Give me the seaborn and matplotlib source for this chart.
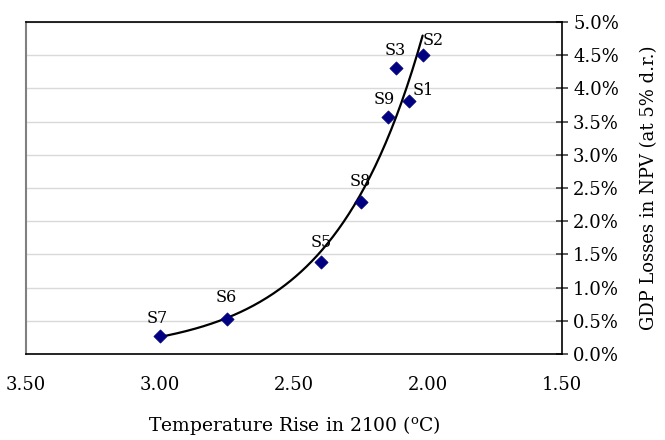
import numpy as np
import pandas as pd
import matplotlib
matplotlib.use("Agg")
import matplotlib.pyplot as plt
import seaborn as sns
from matplotlib.ticker import FuncFormatter, FixedLocator

# scenarios
scenarios = ["S1", "S2", "S3", "S5", "S6", "S7", "S8", "S9"]
temp_rise = [2.07, 2.02, 2.12, 2.40, 2.75, 3.00, 2.25, 2.15]
gdp_loss = [3.81, 4.51, 4.30, 1.39, 0.53, 0.27, 2.29, 3.57]  # percent

# label offsets (pixels) relative to each point
label_dx = [14, 11, -1, 0, -1, -3, -1, -4]
label_dy = [11, 14, 18, 19, 21, 18, 20, 17]

x_ticks = [3.50, 3.00, 2.50, 2.00, 1.50]
y_ticks = [0.0, 0.5, 1.0, 1.5, 2.0, 2.5, 3.0, 3.5, 4.0, 4.5, 5.0]

sns.set_style("white")
plt.rcParams["font.family"] = ["DejaVu Serif"]
plt.rcParams["mathtext.fontset"] = "dejavuserif"

df = pd.DataFrame({"scenario": scenarios, "temp": temp_rise, "loss": gdp_loss})

# exponential trendline (least squares on log values, like Excel)
b, ln_a = np.polyfit(df["temp"], np.log(df["loss"]), 1)
trend = pd.DataFrame({"temp": np.linspace(df["temp"].min(), df["temp"].max(), 200)})
trend["loss"] = np.exp(ln_a) * np.exp(b * trend["temp"])

fig = plt.figure(figsize=(6.65, 4.4), dpi=100)
ax = fig.add_axes([26 / 665, 1 - 354 / 440, (562 - 26) / 665, (354 - 22) / 440])

sns.lineplot(data=trend, x="temp", y="loss", ax=ax, color="black", lw=1.6, zorder=3)
sns.scatterplot(data=df, x="temp", y="loss", ax=ax, marker="D", s=45,
                color="#000080", edgecolor="#000080", zorder=4)

for i, row in df.iterrows():
    ax.annotate(row["scenario"], (row["temp"], row["loss"]),
                xytext=(label_dx[i], label_dy[i]), textcoords="offset pixels",
                ha="center", va="center", fontsize=11.5, color="black", zorder=5)

ax.set_xlim(3.5, 1.5)
ax.set_ylim(0, 5.0)
ax.xaxis.set_major_locator(FixedLocator(x_ticks))
ax.yaxis.set_major_locator(FixedLocator(y_ticks))
ax.xaxis.set_major_formatter(FuncFormatter(lambda v, p: f"{v:.2f}"))
ax.yaxis.set_major_formatter(FuncFormatter(lambda v, p: f"{v:.1f}%"))

ax.yaxis.tick_right()
ax.yaxis.set_label_position("right")
ax.grid(axis="y", color="#d9d9d9", lw=1)
ax.set_axisbelow(True)

for side in ["top", "right", "bottom"]:
    ax.spines[side].set_color("black")
    ax.spines[side].set_linewidth(1.2)
ax.spines["left"].set_color("#808080")
ax.spines["left"].set_linewidth(1.5)

ax.tick_params(axis="x", direction="out", length=5, width=1.2, color="#808080",
               labelsize=13, labelcolor="black", pad=11)
ax.tick_params(axis="y", direction="inout", length=8, width=1.2, color="#404040",
               labelsize=13, labelcolor="black", pad=4)

ax.set_xlabel(r"Temperature Rise in 2100 ($^{\mathrm{o}}$C)", fontsize=13.5,
              color="black", labelpad=14)
ax.set_ylabel("GDP Losses in NPV (at 5% d.r.)", fontsize=13, color="black",
              labelpad=15)

fig.savefig("out.png", dpi=100)
